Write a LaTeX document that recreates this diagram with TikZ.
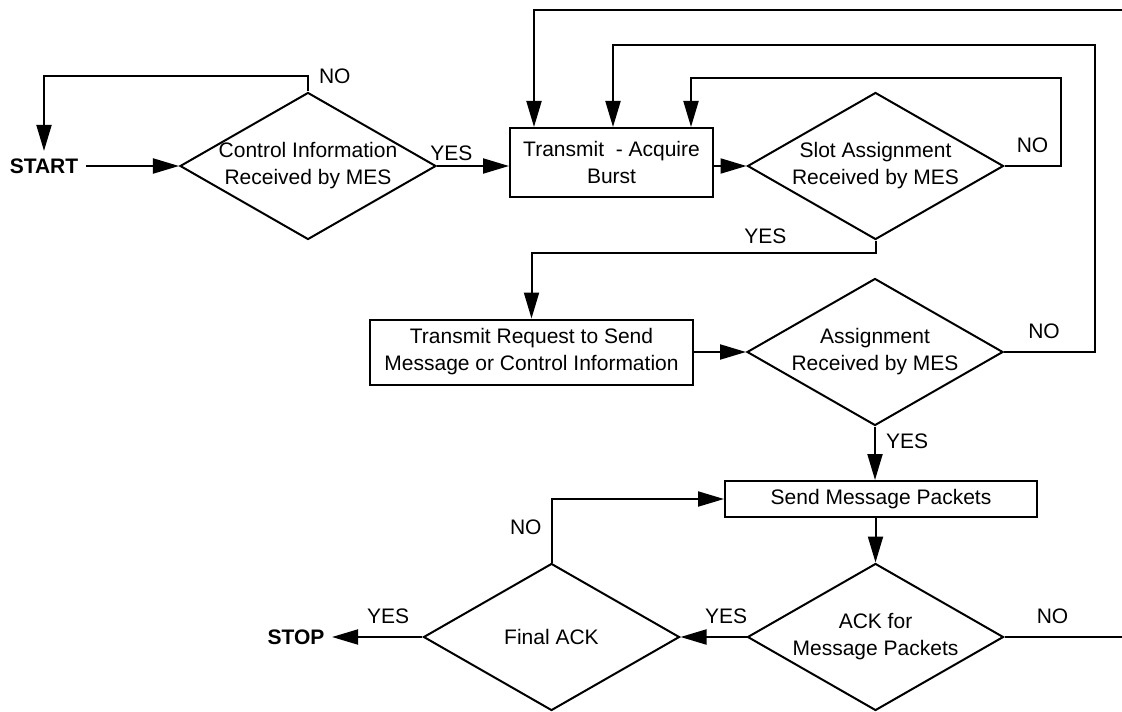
\documentclass[tikz,border=0pt]{standalone}
\usepackage{fontspec}
\setmainfont{Liberation Sans}
\usetikzlibrary{arrows.meta,shapes.geometric}

\begin{document}
\begin{tikzpicture}[x=0.5pt,y=-0.5pt,>={Triangle[length=13pt,width=7.5pt]},line width=1pt,
    font=\fontsize{10.5}{13.5}\selectfont,
    decision/.style={diamond,draw,align=center,inner sep=-4pt,shape aspect=1.74,minimum width=128pt,minimum height=73.5pt},
    process/.style={rectangle,draw,align=center,inner sep=0pt},
    terminal/.style={font=\fontsize{10.5}{13.5}\selectfont\bfseries},
    lbl/.style={inner sep=2pt}]

            \useasboundingbox (0,0) rectangle (1122,711);
            \clip (0,0) rectangle (1122,711);

            \node[terminal] (start) at (44,166) {START};

            \node[decision] (ctrl) at (308,166) {Control Information\\Received by MES};

            \node[process,minimum width=101.5pt,minimum height=34.5pt] (burst) at (611.5,162.5) {Transmit\ \ - Acquire\\Burst};

            \node[decision] (slot) at (875.5,166) {Slot Assignment\\Received by MES};

            \node[process,minimum width=161.5pt,minimum height=32.5pt] (request) at (531.5,352) {Transmit Request to Send\\Message or Control Information};

            \node[decision] (assign) at (875,352) {Assignment\\Received by MES};

            \node[process,minimum width=156pt,minimum height=18pt] (packets) at (881,499) {Send Message Packets};

            \node[decision] (ackmsg) at (875.5,637) {ACK for\\Message Packets};

            \node[decision] (final) at (551.5,637) {Final ACK};

            \node[terminal] (stop) at (296,637) {STOP};

            \path[->] (start) edge (ctrl)
                      (ctrl.east) edge node[lbl,above,pos=0.2] {YES} (ctrl.east -| burst.west)
                      (burst.east |- slot.west) edge (slot.west)
                      (request) edge (assign)
                      (assign.south) edge node[lbl,right=3pt,pos=0.27] {YES} (assign.south |- packets.north)
                      (packets.south -| ackmsg.north) edge (ackmsg.north)
                      (ackmsg) edge node[lbl,above=4pt,pos=0.31] {YES} (final)
                      (final) edge node[lbl,above=4pt,pos=0.38] {YES} (stop);

            \draw[->] (ctrl.north) -- ++(0,-15) node[lbl,right=3pt] {NO} -| (start.north);
            \draw[->] (slot.east) -- ++(56,0) node[lbl,above=4pt,midway] {NO} -- ++(0,-88) -| ([xshift=39.75pt]burst.north);
            \draw[->] (slot.south) -- ++(0,12) -| node[lbl,above=2pt,pos=0.16] {YES} (request.north);
            \draw[->] (assign.east) -- ++(91,0) node[lbl,above=4pt,pos=0.44] {NO} -- ++(0,-307) -| ([xshift=0.75pt]burst.north);
            \draw[->] (ackmsg.east) -- ++(160,0) node[lbl,above=4pt,pos=0.3] {NO} -- ++(0,-627) -| ([xshift=-38.75pt]burst.north);
            \draw[->] (final.north) |- node[lbl,left=2.5pt,pos=0.28] {NO} (packets.west);

        \end{tikzpicture}
\end{document}
